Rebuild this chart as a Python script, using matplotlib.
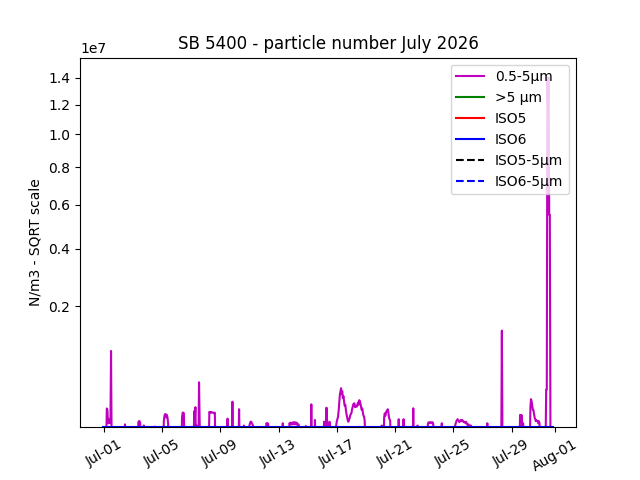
"""
plot.py
SB 5400 particle counts for July 2026 on a square-root y axis,
with the ISO 14644 class limits drawn as reference lines.
"""

import numpy as np
import pandas as pd
import matplotlib
matplotlib.use('Agg')
import matplotlib.pyplot as plt
import matplotlib.dates as mdates

# ── Data (hourly readings, N/m3) ──────────────────────────────────────────────
# Local July month, stored in UTC (starts 22:00 on Jun 30).
# Hours not covered by an episode read as 0 (below the visible range).

START = '2026-06-30 22:00'
END   = '2026-07-31 21:00'

# (first hour, hourly values of the 0.5-5 µm channel)
EPISODES = [
    ('2026-07-01 04:00', [0, 1.4e5, 1.3e5, 5e4, 5e4, 7e4, 6e4, 5e4, 9.2e5, 0]),
    ('2026-07-02 11:00', [4.5e4]),
    ('2026-07-03 09:00', [5.5e4, 6e4, 6e4, 5e4]),
    ('2026-07-03 18:00', [4e4]),
    ('2026-07-04 12:00', [3.6e4]),
    ('2026-07-05 03:00', [6e4, 9e4, 1.0e5, 1.0e5, 8e4, 9.5e4, 8e4, 5e4]),
    ('2026-07-06 09:00', [8e4, 1.1e5, 1.1e5, 1.05e5]),
    ('2026-07-07 05:00', [1.2e5, 6e4, 1.5e5, 0, 4e4, 0, 0, 0, 4.1e5, 6e4]),
    ('2026-07-08 06:00', [1.15e5, 1.1e5, 1.15e5, 1.1e5, 1.12e5, 1.1e5, 1.1e5,
                          1.08e5, 1.05e5, 1.1e5]),
    ('2026-07-09 12:00', [7.3e4]),
    ('2026-07-09 20:00', [1.96e5]),
    ('2026-07-10 07:00', [1.34e5]),
    ('2026-07-10 15:00', [4e4]),
    ('2026-07-11 00:00', [4e4, 5e4, 5.7e4, 5.7e4, 5e4, 4.5e4, 4e4]),
    ('2026-07-12 04:00', [5e4, 4.5e4, 5e4, 4.5e4]),
    ('2026-07-13 07:00', [5e4]),
    ('2026-07-13 18:00', [5e4, 4.5e4, 5.3e4, 4.5e4, 5e4, 4.5e4, 5.5e4, 5e4,
                          4.5e4, 5.5e4, 5e4, 4.5e4, 5.3e4, 4.5e4, 4e4, 4.5e4]),
    ('2026-07-14 21:00', [3.8e4]),
    ('2026-07-15 06:00', [1.73e5]),
    ('2026-07-15 12:00', [6.6e4]),
    ('2026-07-16 03:00', [5.7e4, 0, 0, 5.7e4, 1.46e5, 6e4, 0, 0, 0, 5.7e4]),
    ('2026-07-16 23:00', [4e4, 6e4, 7e4, 8.4e4, 1.2e5, 1.8e5, 2.6e5, 3.0e5,
                          3.36e5, 2.7e5, 3.0e5, 2.3e5, 2.5e5, 1.96e5, 1.6e5,
                          1.7e5, 1.28e5, 1.0e5, 8e4, 6.5e4, 5.7e4, 6.5e4,
                          7.5e4, 9e4, 1.0e5, 1.05e5, 1.3e5, 1.5e5, 1.7e5,
                          1.8e5, 1.82e5, 1.5e5, 1.6e5, 1.55e5, 1.54e5, 1.7e5,
                          1.9e5, 1.7e5, 2.1e5, 2.0e5, 1.8e5, 1.5e5, 1.3e5,
                          1.4e5, 1.1e5, 9e4, 8.4e4, 6e4]),
    ('2026-07-20 02:00', [4e4, 0, 0, 0, 8e4, 1.05e5, 9e4, 1.1e5, 1.2e5,
                          1.25e5, 1.34e5, 1.1e5, 8e4, 7e4, 6e4]),
    ('2026-07-21 06:00', [7e4]),
    ('2026-07-21 14:00', [7e4]),
    ('2026-07-22 06:00', [1.41e5]),
    ('2026-07-22 13:00', [4e4]),
    ('2026-07-23 06:00', [4.5e4, 5.4e4, 5.4e4, 5e4, 5.4e4, 5.2e4, 5.4e4, 5e4,
                          5.4e4, 4.5e4]),
    ('2026-07-24 05:00', [5e4]),
    ('2026-07-25 03:00', [4e4, 5e4, 6e4, 6.5e4, 7e4, 6.5e4, 6e4, 5.5e4, 6e4,
                          6.5e4, 6e4, 6.5e4, 6.5e4, 6e4, 5.5e4, 5.7e4, 5.5e4,
                          5e4, 5.7e4, 5e4, 4.5e4, 4e4, 4.5e4, 4e4, 4e4, 4e4,
                          4e4]),
    ('2026-07-27 08:00', [5e4]),
    ('2026-07-28 08:00', [1.36e6]),
    ('2026-07-29 14:00', [9.5e4, 8e4, 9.5e4, 9e4, 0, 5e4]),
    ('2026-07-30 07:00', [1.5e5, 2.2e5, 2.0e5, 1.6e5, 1.3e5, 1.28e5, 1.0e5,
                          8e4, 7e4, 6e4, 6.5e4, 6e4, 6e4, 5e4, 6e4, 5e4]),
    ('2026-07-31 09:00', [3.2e5, 3.2e5, 1.4e7, 1.2e7, 1.4e7, 5.5e6, 5.5e6, 4e4]),
]

GT5_LEVEL = 0          # >5 µm channel stays below the visible range all month

# ISO 14644-1 class limits (N/m3)
ISO5_05 = 3520
ISO6_05 = 35200
ISO5_5  = 29
ISO6_5  = 293

# ── Build series ──────────────────────────────────────────────────────────────

times = pd.date_range(START, END, freq='h')
fine = pd.Series(0.0, index=times)
for t0, vals in EPISODES:
    idx = pd.date_range(t0, periods=len(vals), freq='h')
    fine.loc[idx] = vals
coarse = pd.Series(float(GT5_LEVEL), index=times)

# ── Figure ────────────────────────────────────────────────────────────────────

fig, ax = plt.subplots(figsize=(6.4, 4.8), dpi=100)

ax.set_yscale('function',
              functions=(lambda v: np.sqrt(np.maximum(v, 0)),
                         lambda v: np.square(v)))

ax.plot(times, fine.values, color='m', label='0.5-5µm')
ax.plot(times, coarse.values, color='g', label='>5 µm')
ax.plot(times, np.full(len(times), ISO5_05), color='r', label='ISO5')
ax.plot(times, np.full(len(times), ISO6_05), color='b', label='ISO6')
ax.plot(times, np.full(len(times), ISO5_5), 'k--', label='ISO5-5µm')
ax.plot(times, np.full(len(times), ISO6_5), 'b--', label='ISO6-5µm')

ax.set_ylim(3.36e4, 1.556e7)
ax.xaxis.set_major_locator(mdates.DayLocator(bymonthday=[1, 5, 9, 13, 17, 21, 25, 29]))
ax.xaxis.set_major_formatter(mdates.DateFormatter('%b-%d'))
plt.setp(ax.get_xticklabels(), rotation=30)

ax.set_title('SB 5400 - particle number July 2026')
ax.set_ylabel('N/m3 - SQRT scale')
ax.set_xlabel('measurement time (hours)')
ax.legend(loc='upper right')

plt.savefig('out.png', dpi=100)
